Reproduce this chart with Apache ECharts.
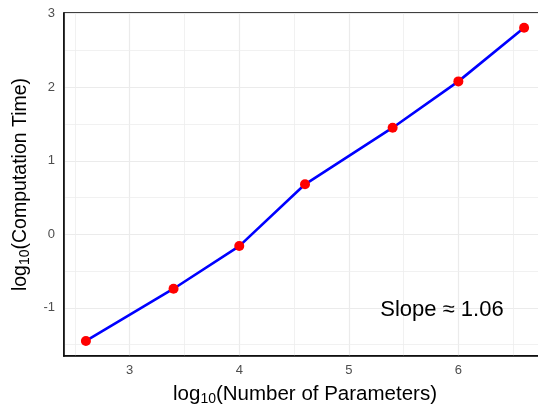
<!DOCTYPE html>
<html>
<head>
<meta charset="utf-8">
<script src="https://cdn.jsdelivr.net/npm/echarts@6/dist/echarts.min.js"></script>
<style>html,body{margin:0;padding:0;background:#fff}#c{width:538px;height:404px}</style>
</head>
<body>
<div id="c"></div>
<script>
// Data
var logParams = [2.6, 3.4, 4.0, 4.6, 5.4, 6.0, 6.6];
var logTime = [-1.45, -0.74, -0.16, 0.68, 1.45, 2.08, 2.81];
var xMinorGrid = [2.5, 3.5, 4.5, 5.5, 6.5];
var yMinorGrid = [-1.5, -0.5, 0.5, 1.5, 2.5];
var slopeText = 'Slope \u2248 1.06';
var slopeAt = [5.85, -1.03];

var FONT = 'Liberation Sans, Arial, Helvetica, sans-serif';
var chart = echarts.init(document.getElementById('c'), null, {renderer: 'canvas'});

var minorLines = [];
xMinorGrid.forEach(function (v) { minorLines.push({xAxis: v}); });
yMinorGrid.forEach(function (v) { minorLines.push({yAxis: v}); });

function intLabel(v) { return Math.abs(v - Math.round(v)) < 1e-9 ? String(Math.round(v)) : ''; }

function titleRich(size) {
  return {
    a: {fontSize: size, fontFamily: FONT, color: '#000', lineHeight: size + 4},
    s: {fontSize: Math.round(size * 0.7), fontFamily: FONT, color: '#000', lineHeight: Math.round(size * 0.7), verticalAlign: 'bottom'}
  };
}

chart.setOption({
  animation: false,
  backgroundColor: '#fff',
  textStyle: {fontFamily: FONT},
  grid: {left: 64, right: -8, top: 13, bottom: 48, show: true, borderColor: '#000', borderWidth: 1.5,
         backgroundColor: 'transparent', containLabel: false, outerBoundsMode: 'none'},
  xAxis: {
    type: 'value', min: 2.4, max: 6.8,
    name: '{a|log}{s|10}{a|(Number of Parameters)}',
    nameLocation: 'middle', nameGap: 26,
    nameTextStyle: {rich: titleRich(20.5)},
    axisLine: {show: true, onZero: false, lineStyle: {color: '#000', width: 1.5}},
    axisTick: {show: false},
    axisLabel: {color: '#4D4D4D', fontSize: 13, fontFamily: FONT, margin: 8, formatter: intLabel},
    splitLine: {show: true, lineStyle: {color: '#EBEBEB', width: 1.2}}
  },
  yAxis: {
    type: 'value', min: -1.655, max: 3.01,
    name: '{a|log}{s|10}{a|(Computation Time)}',
    nameLocation: 'middle', nameGap: 30, nameRotate: 90,
    nameTextStyle: {rich: titleRich(19.5)},
    axisLine: {show: true, onZero: false, lineStyle: {color: '#000', width: 1.5}},
    axisTick: {show: false},
    axisLabel: {color: '#4D4D4D', fontSize: 13, fontFamily: FONT, margin: 9, formatter: intLabel},
    splitLine: {show: true, lineStyle: {color: '#EBEBEB', width: 1.2}}
  },
  series: [
    {
      type: 'line', data: [], z: 0, silent: true,
      markLine: {
        silent: true, z: 0, symbol: ['none', 'none'], label: {show: false},
        lineStyle: {color: '#EEEEEE', width: 0.8, type: 'solid'},
        emphasis: {disabled: true},
        data: minorLines
      }
    },
    {
      type: 'line', z: 3,
      data: logParams.map(function (x, i) { return [x, logTime[i]]; }),
      lineStyle: {color: '#0000FF', width: 2.6},
      symbol: 'circle', symbolSize: 10,
      itemStyle: {color: '#FF0000', borderWidth: 0},
      showAllSymbol: true
    },
    {
      type: 'scatter', z: 4, symbolSize: 0,
      itemStyle: {opacity: 1},
      data: [slopeAt],
      label: {show: true, position: 'inside', formatter: slopeText, fontSize: 22, color: '#000000',
              opacity: 1, textBorderWidth: 0, fontFamily: FONT}
    }
  ]
});
</script>
</body>
</html>
